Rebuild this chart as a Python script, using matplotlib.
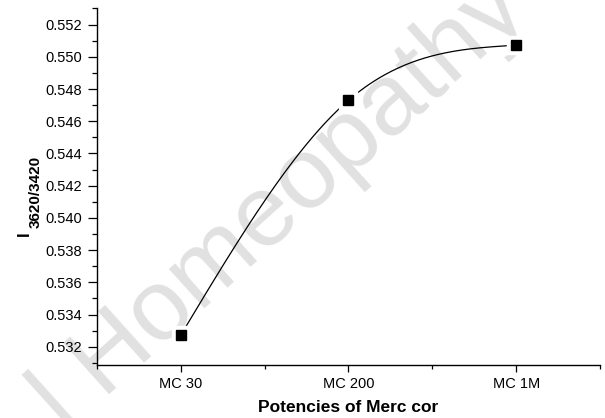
import numpy as np
import matplotlib
matplotlib.use('Agg')
import matplotlib.pyplot as plt

potencies = ['MC 30', 'MC 200', 'MC 1M']
ratio = [0.53273, 0.54730, 0.55072]

plt.rcParams['font.family'] = ['Liberation Sans', 'DejaVu Sans']


def natural_spline(x, y, n=200):
    # natural cubic spline through the points (Origin style smooth line)
    x = np.asarray(x, float)
    y = np.asarray(y, float)
    h = np.diff(x)
    k = len(x)
    A = np.zeros((k, k))
    b = np.zeros(k)
    A[0, 0] = A[-1, -1] = 1
    for i in range(1, k - 1):
        A[i, i - 1] = h[i - 1]
        A[i, i] = 2 * (h[i - 1] + h[i])
        A[i, i + 1] = h[i]
        b[i] = 6 * ((y[i + 1] - y[i]) / h[i] - (y[i] - y[i - 1]) / h[i - 1])
    M = np.linalg.solve(A, b)
    xs = np.linspace(x[0], x[-1], n)
    ys = np.empty_like(xs)
    for j, xv in enumerate(xs):
        i = min(max(np.searchsorted(x, xv) - 1, 0), k - 2)
        t0 = x[i + 1] - xv
        t1 = xv - x[i]
        ys[j] = (M[i] * t0**3 + M[i + 1] * t1**3) / (6 * h[i]) \
            + (y[i] / h[i] - M[i] * h[i] / 6) * t0 \
            + (y[i + 1] / h[i] - M[i + 1] * h[i] / 6) * t1
    return xs, ys


xpos = np.arange(1, len(potencies) + 1)

fig = plt.figure(figsize=(6.05, 4.18), dpi=100)
ax = fig.add_axes([0.1603, 0.1268, 0.8314, 0.853])
ax.patch.set_alpha(0)
ax.set_zorder(2)

# faint watermark behind the plot
fig.text(0.109, -0.036, 'l Homeopathy', fontsize=73, color='#e1e1e1',
         rotation=42, rotation_mode='anchor', ha='left', va='baseline', zorder=0)

xs, ys = natural_spline(xpos, ratio)
ax.plot(xs, ys, color='black', lw=0.9, zorder=2)
ax.plot(xpos, ratio, 's', ms=13, color='white', zorder=3)
ax.plot(xpos, ratio, 's', ms=6.5, color='black', zorder=4)

ax.set_xlim(0.5, 3.5)
ax.set_ylim(0.53087, 0.553)
ax.set_xticks(xpos)
ax.set_xticklabels(potencies)
ax.set_xticks([0.5, 1.5, 2.5, 3.5], minor=True)
ax.set_yticks(np.arange(0.532, 0.5525, 0.002))
ax.set_yticks(np.arange(0.531, 0.553, 0.001), minor=True)
ax.yaxis.set_major_formatter(matplotlib.ticker.FormatStrFormatter('%.3f'))

ax.tick_params(axis='y', which='major', direction='out', length=6.5, width=0.9, labelsize=10.5, pad=4)
ax.tick_params(axis='y', which='minor', direction='out', length=3.5, width=0.9)
ax.tick_params(axis='x', which='major', direction='out', length=5, width=0.9, labelsize=10.5, pad=4)
ax.tick_params(axis='x', which='minor', direction='out', length=3, width=0.9)
for s in ['top', 'right']:
    ax.spines[s].set_visible(False)
for s in ['left', 'bottom']:
    ax.spines[s].set_linewidth(1.0)

ax.set_xlabel('Potencies of Merc cor', fontsize=12.5, fontweight='bold', labelpad=6)

# y label: I with subscript 3620/3420
fig.text(0.040, 0.442, 'I', fontsize=12, fontweight='bold', rotation=90,
         ha='center', va='center')
fig.text(0.059, 0.541, '3620/3420', fontsize=11, fontweight='bold', rotation=90,
         ha='center', va='center')

fig.savefig('out.png', dpi=100)
